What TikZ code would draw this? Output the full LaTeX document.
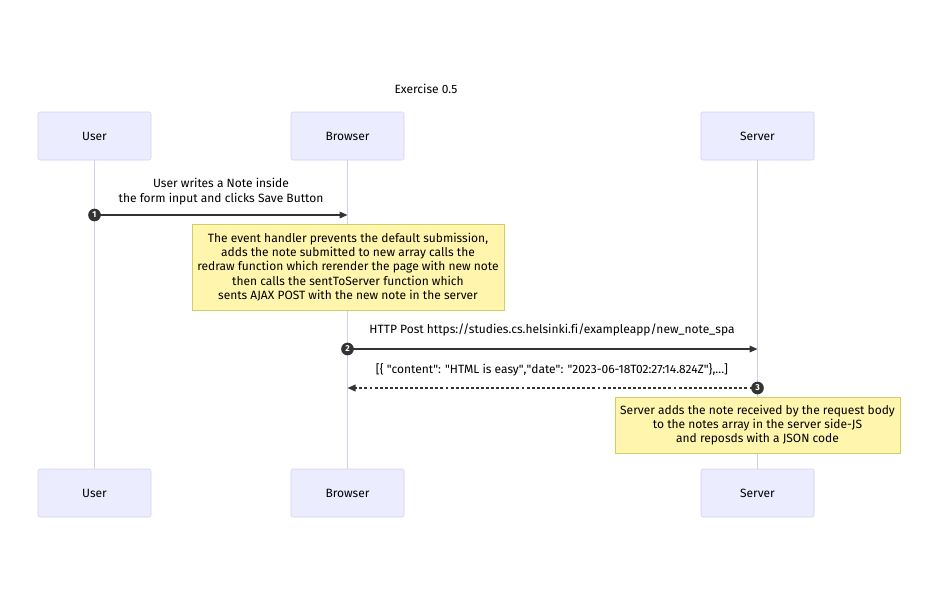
\documentclass[tikz,border=0pt]{standalone}
\usepackage{fontspec}
\setmainfont{Fira Sans}[Ligatures={NoCommon}]
\usetikzlibrary{arrows.meta}
\definecolor{actorfill}{HTML}{ECECFF}
\definecolor{actorline}{HTML}{D8CFF2}
\definecolor{lifeline}{HTML}{D5CCF0}
\definecolor{notefill}{HTML}{FFF5AD}
\definecolor{noteline}{HTML}{CFCF6A}
\definecolor{msgline}{HTML}{333333}
\newcommand{\dq}{\textquotedbl}
\tikzset{
  actor/.style={draw=actorline, fill=actorfill, rounded corners=1.5pt,
    minimum width=113*0.75pt, minimum height=48*0.75pt, inner sep=0pt,
    font=\fontsize{9}{11}\selectfont, text=black},
  note/.style={draw=noteline, fill=notefill, inner sep=0pt, align=center,
    font=\fontsize{9}{10.8}\selectfont, text=black},
  msgtext/.style={font=\fontsize{9}{11.25}\selectfont, align=center, text=black},
  life/.style={draw=lifeline, line width=0.8pt},
  msg/.style={draw=msgline, line width=1pt, -{Triangle[length=6pt,width=5pt]}},
  reply/.style={msg, dash pattern=on 2.2pt off 1.6pt},
  seq/.style={circle, fill=msgline, text=white, inner sep=0pt, minimum size=9.5pt,
    font=\fontsize{6.5}{6.5}\selectfont\bfseries}
}
\begin{document}
\begin{tikzpicture}[x=0.75pt, y=-0.75pt]
\useasboundingbox (0,0) rectangle (938,600);

\node[msgtext] (title) at (426,89) {Exercise 0.5};

% actors, top and bottom
\node[actor] (userT) at (94.5,136) {User};
\node[actor] (browserT) at (347.5,136) {Browser};
\node[actor] (serverT) at (757.5,136) {Server};
\node[actor] (userB) at (94.5,493) {User};
\node[actor] (browserB) at (347.5,493) {Browser};
\node[actor] (serverB) at (757.5,493) {Server};

% lifelines
\draw[life] (userT.south) -- (userB.north);
\draw[life] (browserT.south) -- (browserB.north);
\draw[life] (serverT.south) -- (serverB.north);

% message anchors on the lifelines
\coordinate (u1) at (94.5,215);
\coordinate (b1) at (347.5,215);
\coordinate (b2) at (347.5,349);
\coordinate (s2) at (757.5,349);
\coordinate (s3) at (757.5,388);
\coordinate (b3) at (347.5,388);

% 1: user to browser
\node[msgtext] (m1) at (221,191.5) {User writes a Note inside\\the form input and clicks Save Button};
\draw[msg] (u1) -- (b1);
\node[seq] (n1) at (u1) {1};

% note on browser
\node[note, minimum width=312*0.75pt, minimum height=86*0.75pt] (note1) at (348,267)
  {The event handler prevents the default submission,\\
   adds the note submitted to new array calls the\\
   redraw function which rerender the page with new note\\
   then calls the sentToServer function which\\
   sents AJAX POST with the new note in the server};

% 2: browser to server
\node[msgtext] (m2) at (552,330) {HTTP Post https://studies.cs.helsinki.f\kern0pt i/exampleapp/new\_note\_spa};
\draw[msg] (b2) -- (s2);
\node[seq] (n2) at (b2) {2};

% 3: server back to browser
\node[msgtext] (m3) at (552,370) {[\{ \dq content\dq: \dq HTML is easy\dq,\dq date\dq: \dq 2023-06-18T02:27:14.824Z\dq\},...]};
\draw[reply] (s3) -- (b3);
\node[seq] (n3) at (s3) {3};

% note on server
\node[note, minimum width=285*0.75pt, minimum height=56*0.75pt] (note2) at (757.5,425)
  {Server adds the note received by the request body\\
   to the notes array in the server side-JS\\
   and reposds with a JSON code};
\end{tikzpicture}
\end{document}
